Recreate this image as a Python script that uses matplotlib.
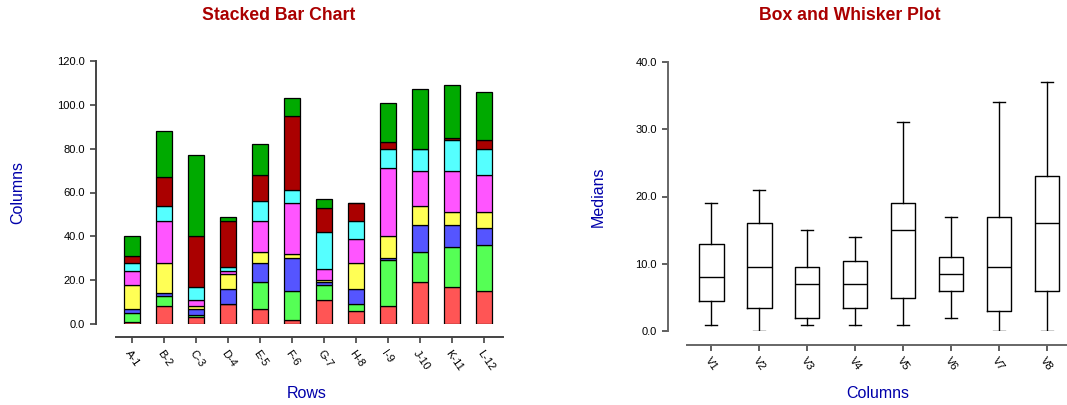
import numpy as np
import matplotlib
matplotlib.use("Agg")
import matplotlib.pyplot as plt

plt.rcParams['font.family'] = ['Liberation Sans', 'DejaVu Sans']

# stacked bar data, bottom to top
rows = ['A-1', 'B-2', 'C-3', 'D-4', 'E-5', 'F-6', 'G-7', 'H-8', 'I-9', 'J-10', 'K-11', 'L-12']
s_red = [1, 8, 3, 9, 7, 2, 11, 6, 8, 19, 17, 15]
s_green = [4, 5, 1, 0, 12, 13, 7, 3, 21, 14, 18, 21]
s_blue = [2, 1, 3, 7, 9, 15, 1, 7, 1, 12, 10, 8]
s_yellow = [11, 14, 1, 7, 5, 2, 1, 12, 10, 9, 6, 7]
s_magenta = [6, 19, 3, 1, 14, 23, 5, 11, 31, 16, 19, 17]
s_cyan = [4, 7, 6, 2, 9, 6, 17, 8, 9, 10, 14, 12]
s_darkred = [3, 13, 23, 21, 12, 34, 11, 8, 3, 0, 1, 4]
s_darkgreen = [9, 21, 37, 2, 14, 8, 4, 0, 18, 27, 24, 22]
series = [s_red, s_green, s_blue, s_yellow, s_magenta, s_cyan, s_darkred, s_darkgreen]
colors = ['#FF5555', '#55FF55', '#5555FF', '#FFFF55', '#FF55FF', '#55FFFF', '#AA0000', '#00AA00']

# box plot data
box_names = ['V1', 'V2', 'V3', 'V4', 'V5', 'V6', 'V7', 'V8']
b_low = [1, 0, 1, 1, 1, 2, 0, 0]
b_q1 = [4.5, 3.5, 2, 3.5, 5, 6, 3, 6]
b_med = [8, 9.5, 7, 7, 15, 8.5, 9.5, 16]
b_q3 = [13, 16, 9.5, 10.5, 19, 11, 17, 23]
b_high = [19, 21, 15, 14, 31, 17, 34, 37]

title_col = '#AA0000'
label_col = '#0000AA'

fig = plt.figure(figsize=(10.67, 4.05), dpi=100)

def style(ax, offset, spine_col):
    for s in ('top', 'right'):
        ax.spines[s].set_visible(False)
    for s in ('left', 'bottom'):
        ax.spines[s].set_color(spine_col)
        ax.spines[s].set_linewidth(1.4)
    # set_position resets ticks, so do it before labels
    ax.spines['bottom'].set_position(('outward', offset))
    ax.tick_params(direction='out', length=4.5, width=1.1, color='#333333', labelsize=8)
    ax.patch.set_alpha(0)

# ---- stacked bars ----
ax1 = fig.add_axes([96/1067, 1-324/405, 407/1067, 263/405])
style(ax1, 9.5, '#444444')
x = np.arange(len(rows))
bottom = np.zeros(len(rows))
for vals, c in zip(series, colors):
    ax1.bar(x, vals, 0.5, bottom=bottom, color=c, edgecolor='black', linewidth=0.9)
    bottom += np.array(vals)
ax1.set_ylim(0, 120)
ax1.set_xlim(-1.12, 11.6)
ax1.set_yticks(np.arange(0, 121, 20))
ax1.set_yticklabels(['%.1f' % v for v in np.arange(0, 121, 20)])
ax1.set_xticks(x)
ax1.set_xticklabels(rows, rotation=-55, ha='left', va='top', rotation_mode='anchor')
ax1.spines['bottom'].set_bounds(-0.5, 11.6)
fig.text(279/1067, 1-16/405, 'Stacked Bar Chart', color=title_col, fontsize=12.7,
         fontweight='bold', ha='center', va='center')
fig.text(18/1067, 1-192/405, 'Columns', color=label_col, fontsize=11.5, rotation=90,
         ha='center', va='center')
fig.text(307/1067, 1-393/405, 'Rows', color=label_col, fontsize=11.5, ha='center', va='center')

# ---- box and whisker ----
ax2 = fig.add_axes([668/1067, 1-331.3/405, 399/1067, 269.6/405])
style(ax2, 9.7, '#666666')
stats = []
for i in range(len(box_names)):
    stats.append({'whislo': b_low[i], 'q1': b_q1[i], 'med': b_med[i], 'q3': b_q3[i],
                  'whishi': b_high[i], 'fliers': [], 'label': box_names[i]})
ax2.bxp(stats, positions=np.arange(1, 9), widths=0.51, showfliers=False,
        boxprops=dict(color='black', linewidth=1.0),
        medianprops=dict(color='black', linewidth=1.0),
        whiskerprops=dict(color='black', linewidth=1.0),
        capprops=dict(color='black', linewidth=1.0), capwidths=0.25)
ax2.set_ylim(0, 40)
ax2.set_xlim(0.094, 8.42)
ax2.set_yticks(np.arange(0, 41, 10))
ax2.set_yticklabels(['%.1f' % v for v in np.arange(0, 41, 10)])
ax2.set_xticks(np.arange(1, 9))
ax2.set_xticklabels(box_names, rotation=-55, ha='left', va='top', rotation_mode='anchor')
ax2.spines['bottom'].set_bounds(0.484, 8.42)
fig.text(850/1067, 1-16/405, 'Box and Whisker Plot', color=title_col, fontsize=12.7,
         fontweight='bold', ha='center', va='center')
fig.text(598/1067, 1-197/405, 'Medians', color=label_col, fontsize=11.5, rotation=90,
         ha='center', va='center')
fig.text(878/1067, 1-393/405, 'Columns', color=label_col, fontsize=11.5, ha='center', va='center')

fig.savefig('out.png', dpi=100)
